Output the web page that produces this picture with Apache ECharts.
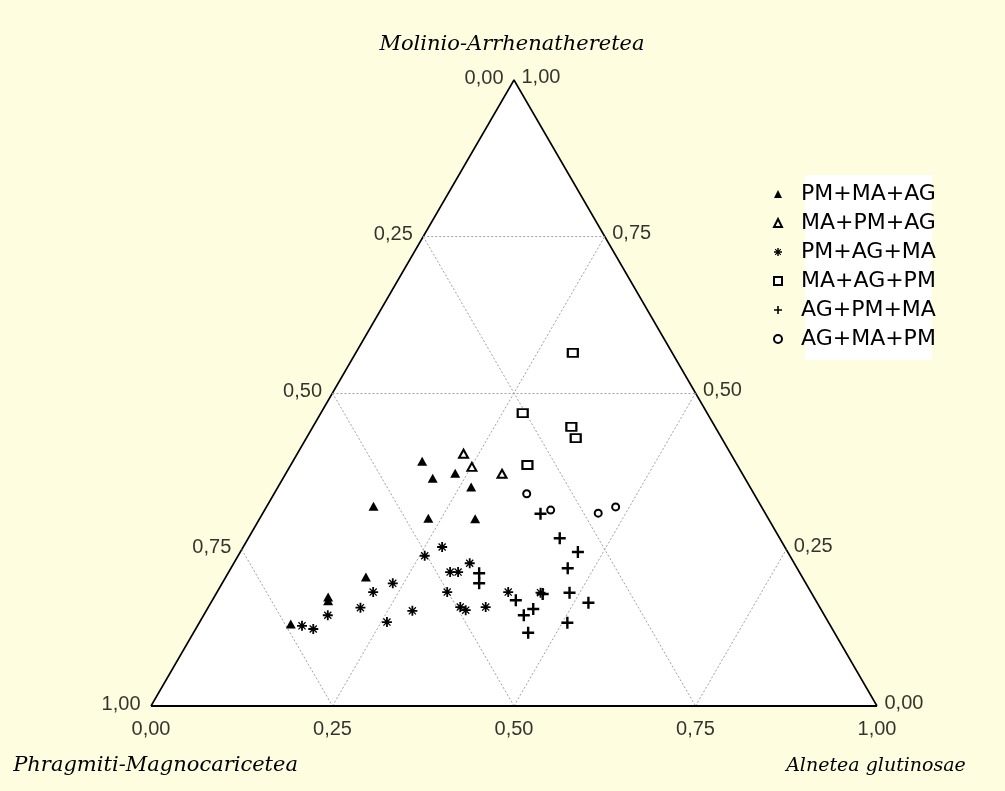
<!DOCTYPE html>
<html><head><meta charset="utf-8">
<script src="https://cdn.jsdelivr.net/npm/echarts@6/dist/echarts.min.js"></script>
<style>html,body{margin:0;padding:0;background:#FFFDE0}#c{width:1005px;height:791px}</style>
</head><body><div id="c"></div>
<script>
// Axis (vertex) names: left = PM, top = MA, right = AG
const axisNames = ['Phragmiti-Magnocaricetea', 'Molinio-Arrhenatheretea', 'Alnetea glutinosae'];
const seriesNames = ['PM+MA+AG', 'MA+PM+AG', 'PM+AG+MA', 'MA+AG+PM', 'AG+PM+MA', 'AG+MA+PM'];
const ticks = [0, 0.25, 0.5, 0.75, 1];
const tickLabels = ['0,00', '0,25', '0,50', '0,75', '1,00'];
const gridTicks = [0.25, 0.5, 0.75];
const maGridTicks = [0.5, 0.75];

// compositions [PM, MA, AG]
const pmMaAg = [[0.431,0.391,0.178],[0.430,0.364,0.206],[0.395,0.372,0.233],[0.384,0.350,0.266],
  [0.534,0.319,0.147],[0.468,0.300,0.232],[0.404,0.299,0.297],[0.601,0.206,0.193],
  [0.669,0.174,0.157],[0.672,0.168,0.160],[0.742,0.131,0.127]];
const maPmAg = [[0.368,0.403,0.229],[0.367,0.382,0.251],[0.331,0.371,0.298]];
const pmAgMa = [[0.472,0.254,0.274],[0.503,0.240,0.257],[0.481,0.214,0.305],[0.470,0.214,0.316],
  [0.447,0.228,0.325],[0.501,0.182,0.317],[0.495,0.158,0.347],[0.490,0.153,0.357],
  [0.460,0.158,0.382],[0.417,0.182,0.401],[0.373,0.181,0.446],[0.564,0.152,0.284],
  [0.569,0.196,0.235],[0.603,0.182,0.215],[0.633,0.157,0.210],[0.608,0.134,0.258],
  [0.684,0.145,0.171],[0.728,0.128,0.144],[0.715,0.123,0.162]];
const maAgPm = [[0.137,0.564,0.299],[0.254,0.468,0.278],[0.198,0.446,0.356],[0.201,0.428,0.371],
  [0.289,0.385,0.326]];
const agPmMa = [[0.310,0.307,0.383],[0.303,0.268,0.429],[0.289,0.246,0.465],[0.316,0.220,0.464],
  [0.333,0.181,0.486],[0.315,0.165,0.520],[0.360,0.133,0.507],[0.413,0.169,0.418],
  [0.396,0.155,0.449],[0.414,0.145,0.441],[0.422,0.117,0.461],[0.442,0.212,0.346],
  [0.450,0.196,0.354],[0.371,0.179,0.450]];
const agMaPm = [[0.313,0.339,0.348],[0.293,0.313,0.394],[0.230,0.308,0.462],[0.201,0.318,0.481]];

const toXY = c => [c[2] + c[1] / 2, c[1]];

const plusPath = 'path://M0,4h10v2h-10zM4,0h2v10h-2z';
const starPath = 'path://M0,4.1h10v1.8h-10zM4.1,0h1.8v10h-1.8zM1,1.9L1.9,1L9,8.1L8.1,9ZM1,8.1L8.1,1L9,1.9L1.9,9Z';

const markerDefs = [
  {data: pmMaAg, symbol: 'triangle', size: [10, 9]},
  {data: maPmAg, symbol: 'emptyTriangle', size: [9, 8]},
  {data: pmAgMa, symbol: starPath, size: 10},
  {data: maAgPm, symbol: 'emptyRect', size: [10, 8]},
  {data: agPmMa, symbol: plusPath, size: 12},
  {data: agMaPm, symbol: 'emptyCircle', size: 7}
];

// grid lines from ticks
const gridLines = [];
gridTicks.forEach(a => gridLines.push({coords: [[a, 0], [a + (1 - a) / 2, 1 - a]]}));
gridTicks.forEach(p => gridLines.push({coords: [[(1 - p) / 2, 1 - p], [1 - p, 0]]}));
maGridTicks.forEach(m => gridLines.push({coords: [[m / 2, m], [1 - m / 2, m]]}));

const labelSeries = (pts, pos, dist, off) => ({
  type: 'scatter', symbolSize: 1, silent: true, z: 5,
  itemStyle: {color: 'rgba(0,0,0,0)'},
  label: {show: true, position: pos, distance: dist, offset: off, color: '#000',
    fontFamily: 'Liberation Sans', fontSize: 20, formatter: p => p.data[2]},
  data: pts
});

const leftPts = ticks.map((t, i) => [(1 - t) / 2, 1 - t, tickLabels[i]]);
const rightPts = ticks.map((t, i) => [1 - t / 2, t, tickLabels[i]]);
const bottomPts = ticks.map((t, i) => [t, 0, tickLabels[i]]);

const series = [
  {type: 'line', data: [[0, 0], [0.5, 1], [1, 0]], symbol: 'none', clip: false, silent: true, z: 1,
   lineStyle: {color: '#000', width: 1.6}, areaStyle: {color: '#fff', opacity: 1}},
  {type: 'lines', coordinateSystem: 'cartesian2d', silent: true, z: 1.5,
   lineStyle: {color: '#a0a0a0', width: 1, type: [2, 2], opacity: 1}, data: gridLines},
  {type: 'lines', coordinateSystem: 'cartesian2d', silent: true, z: 1.6,
   lineStyle: {color: '#000', width: 2, opacity: 1}, data: [{coords: [[0, 0], [1, 0]]}]},
  labelSeries(leftPts, 'left', 10, [0, -2]),
  labelSeries(rightPts, 'right', 7, [0, -3]),
  labelSeries(bottomPts, 'bottom', 13, [0, 0])
];
markerDefs.forEach((m, i) => series.push({
  type: 'scatter', name: seriesNames[i], symbol: m.symbol, symbolSize: m.size, z: 3,
  itemStyle: {color: '#000', opacity: 1}, data: m.data.map(toXY)
}));

const chart = echarts.init(document.getElementById('c'), null, {renderer: 'canvas'});
chart.setOption({
  backgroundColor: '#FFFDE0',
  animation: false,
  grid: {left: 151, right: 128, top: 80, bottom: 85},
  xAxis: {type: 'value', min: 0, max: 1, show: false},
  yAxis: {type: 'value', min: 0, max: 1, show: false},
  legend: {
    orient: 'vertical', left: 773, top: 183, padding: 0,
    itemWidth: 8, itemHeight: 8, itemGap: 7, selectedMode: false,
    data: seriesNames,
    textStyle: {fontFamily: 'DejaVu Sans', fontSize: 22, fontWeight: 500, color: '#000', lineHeight: 20, padding: [0, 0, 0, 14]}
  },
  graphic: [
    {type: 'rect', z: 1, shape: {x: 805, y: 175, width: 127, height: 185}, style: {fill: '#fff'}},
    {type: 'text', x: 512, y: 45, style: {text: axisNames[1], font: 'italic 21px "DejaVu Serif"', fill: '#000',
      align: 'center', verticalAlign: 'middle', textAlign: 'center', textVerticalAlign: 'middle'}},
    {type: 'text', x: 298, y: 766, style: {text: axisNames[0], font: 'italic 21px "DejaVu Serif"', fill: '#000',
      align: 'right', verticalAlign: 'middle', textAlign: 'right', textVerticalAlign: 'middle'}},
    {type: 'text', x: 876, y: 766, style: {text: axisNames[2], font: 'italic 19px "DejaVu Serif"', fill: '#000',
      align: 'center', verticalAlign: 'middle', textAlign: 'center', textVerticalAlign: 'middle'}}
  ],
  series: series
});
</script></body></html>
